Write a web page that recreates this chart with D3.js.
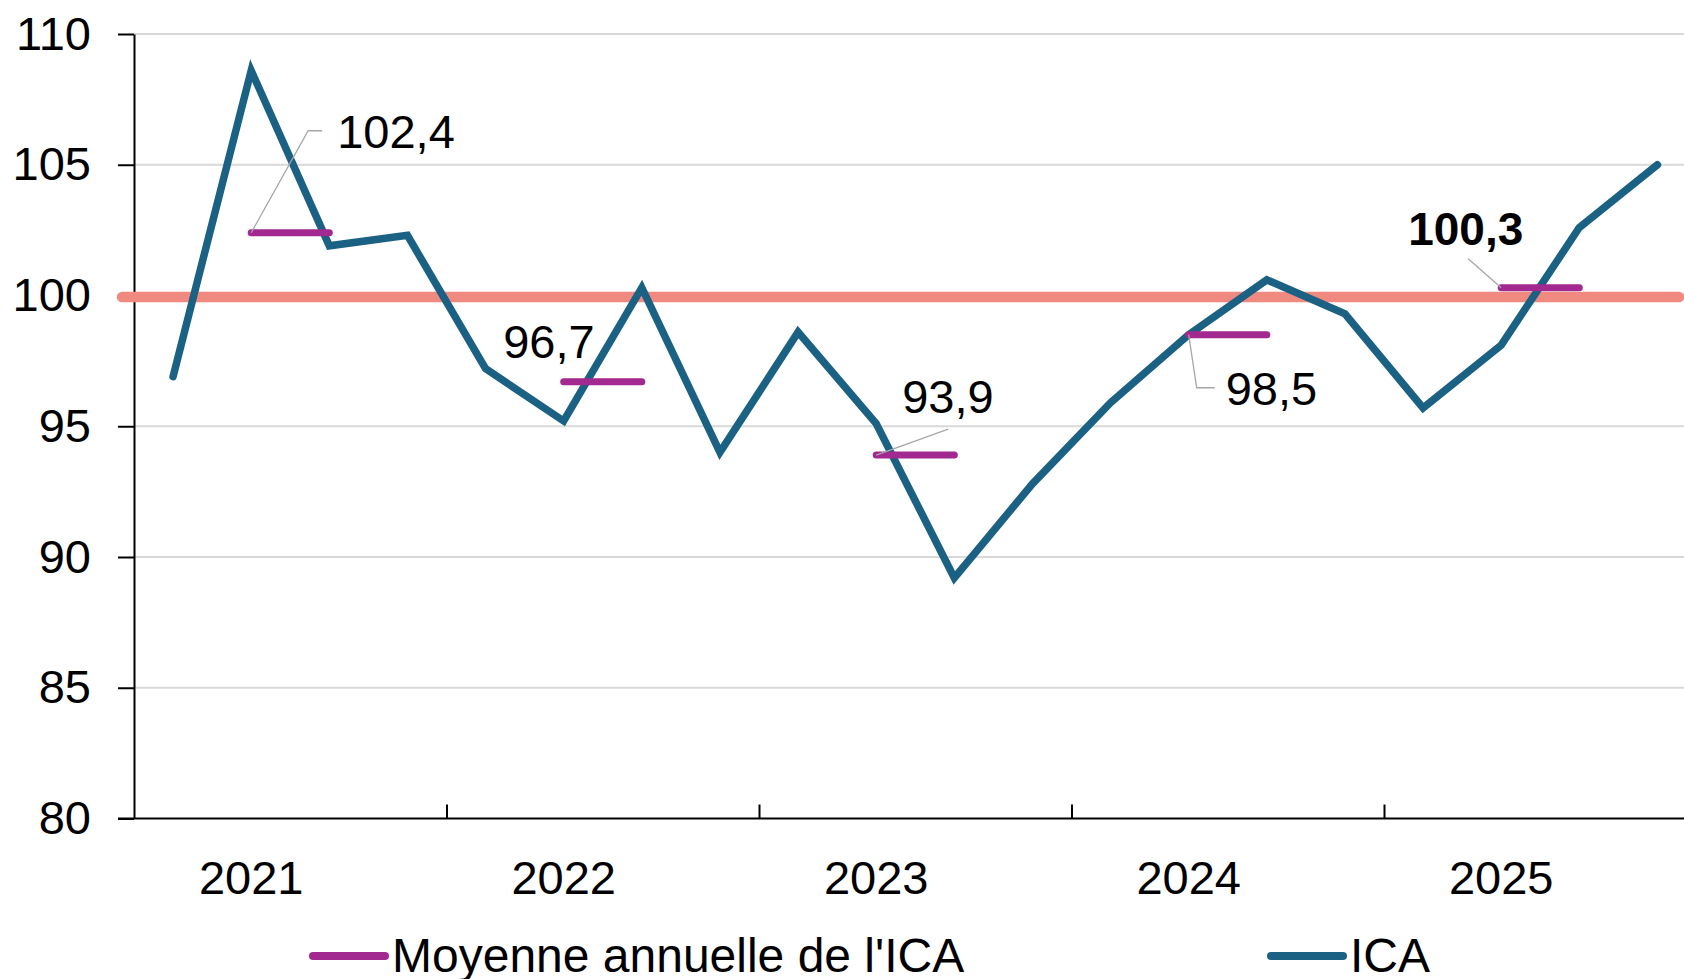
<!DOCTYPE html>
<html>
  <head>
    <meta charset="UTF-8">
    <title>ICA et moyenne annuelle</title>
    <style>
      body { margin: 0; background: #fff; }
      svg { display: block; font-family: "Liberation Sans", Arial, sans-serif; }
    </style>
  </head>
  <body>
    <svg></svg>

    <script src="https://d3js.org/d3.v7.min.js"></script>
    <script>

/* DATA */

// one point per quarter, 2021 T1 -> 2025 T4
var quarters = ["2021T1","2021T2","2021T3","2021T4",
                "2022T1","2022T2","2022T3","2022T4",
                "2023T1","2023T2","2023T3","2023T4",
                "2024T1","2024T2","2024T3","2024T4",
                "2025T1","2025T2","2025T3","2025T4"];
var ica = [96.9, 108.6, 101.9, 102.3,
           97.2, 95.2, 100.3, 94.0,
           98.6, 95.1, 89.2, 92.8,
           95.9, 98.5, 100.6, 99.3,
           95.7, 98.1, 102.6, 105.0];

var years = ["2021", "2022", "2023", "2024", "2025"];
var yearMeans = [102.4, 96.7, 93.9, 98.5, 100.3];
var meanLabels = ["102,4", "96,7", "93,9", "98,5", "100,3"];

var yTicks = [80, 85, 90, 95, 100, 105, 110];
var reference = 100;

var config = {
  "width": 1684,
  "height": 979,
  "left": 134,
  "quarterWidth": 78.125,
  "top": 34,
  "bottom": 818.5,
  "fontSize": 47,
  "legendFontSize": 48,
  "colors": {
    "ica": "#1a6184",
    "mean": "#a2298f",
    "ref": "#f08a80",
    "grid": "#d9d9d9",
    "leader": "#a6a6a6"
  }
};

// label placement relative to the start of each yearly mean segment
var labelSpots = [
  {dx: 86, dy: -85, anchor: "start", bold: false, leader: [[0, 0], [57, -102], [71, -102]]},
  {dx: 31, dy: -24, anchor: "end", bold: false, leader: []},
  {dx: 26, dy: -42, anchor: "start", bold: false, leader: [[0, 0], [72, -26]]},
  {dx: 37, dy: 70, anchor: "start", bold: false, leader: [[0, 0], [8, 53], [26, 53]]},
  {dx: -93, dy: -43, anchor: "start", bold: true, leader: [[0, 0], [-33, -29]]}
];

/* BUILD */

var svg = d3.select("svg")
  .attr("width", config.width)
  .attr("height", config.height);

svg.append("rect")
  .attr("width", config.width)
  .attr("height", config.height)
  .attr("fill", "#fff");

var x = d3.scaleLinear()
  .domain([0, quarters.length])
  .range([config.left, config.left + quarters.length * config.quarterWidth]);

var y = d3.scaleLinear()
  .domain([80, 110])
  .range([config.bottom, config.top]);

// gridlines
svg.append("g")
  .selectAll("line")
  .data(yTicks.filter(function(d){ return d > 80; }))
  .enter().append("line")
    .attr("x1", x(0))
    .attr("x2", config.width)
    .attr("y1", function(d){ return y(d); })
    .attr("y2", function(d){ return y(d); })
    .attr("stroke", config.colors.grid)
    .attr("stroke-width", 2);

// y axis
var yAxis = svg.append("g")
  .attr("transform", `translate(${x(0)},0)`)
  .call(d3.axisLeft(y)
    .tickValues(yTicks)
    .tickSizeInner(16)
    .tickSizeOuter(0)
    .tickPadding(27)
    .tickFormat(d3.format("d")));

yAxis.selectAll("path, line").attr("stroke", "#000").attr("stroke-width", 2);
yAxis.selectAll("text")
  .attr("font-size", config.fontSize)
  .attr("font-family", "Liberation Sans, Arial, sans-serif")
  .attr("fill", "#000");

// x axis with year separators pointing up
var xAxis = svg.append("g")
  .attr("transform", `translate(0,${y(80)})`)
  .call(d3.axisBottom(x)
    .tickValues([4, 8, 12, 16])
    .tickSizeInner(-14)
    .tickSizeOuter(0)
    .tickFormat(""));

xAxis.select(".domain").attr("d", `M${x(0) - 16},0H${config.width}`);
xAxis.selectAll("path, line").attr("stroke", "#000").attr("stroke-width", 2);

// year labels, placed under the 2nd quarter of each year
svg.append("g")
  .selectAll("text")
  .data(years)
  .enter().append("text")
    .attr("x", function(d, i){ return x(i * 4 + 1.5); })
    .attr("y", y(80) + 75)
    .attr("text-anchor", "middle")
    .attr("font-size", config.fontSize)
    .attr("fill", "#000")
    .text(function(d){ return d; });

// reference line at 100
svg.append("line")
  .attr("x1", x(0) - 12)
  .attr("x2", config.width - 5)
  .attr("y1", y(reference) + 1.5)
  .attr("y2", y(reference) + 1.5)
  .attr("stroke", config.colors.ref)
  .attr("stroke-width", 10.5)
  .attr("stroke-linecap", "round");

// ICA line
var line = d3.line()
  .x(function(d, i){ return x(i + 0.5); })
  .y(function(d){ return y(d); });

svg.append("path")
  .datum(ica)
  .attr("d", line)
  .attr("fill", "none")
  .attr("stroke", config.colors.ica)
  .attr("stroke-width", 7.5)
  .attr("stroke-linejoin", "miter")
  .attr("stroke-linecap", "round");

// yearly mean segments (from Q2 to Q3 of each year)
svg.append("g")
  .selectAll("line")
  .data(yearMeans)
  .enter().append("line")
    .attr("x1", function(d, i){ return x(i * 4 + 1.5); })
    .attr("x2", function(d, i){ return x(i * 4 + 2.5); })
    .attr("y1", function(d){ return y(d); })
    .attr("y2", function(d){ return y(d); })
    .attr("stroke", config.colors.mean)
    .attr("stroke-width", 7)
    .attr("stroke-linecap", "round");

// data labels + leader lines
yearMeans.forEach(function(v, i){
  var sx = x(i * 4 + 1.5),
    sy = y(v),
    spot = labelSpots[i];

  if (spot.leader.length) {
    svg.append("path")
      .attr("d", d3.line()(spot.leader.map(function(p){ return [sx + p[0], sy + p[1]]; })))
      .attr("fill", "none")
      .attr("stroke", config.colors.leader)
      .attr("stroke-width", 1.3);
  }

  svg.append("text")
    .attr("x", sx + spot.dx)
    .attr("y", sy + spot.dy)
    .attr("text-anchor", spot.anchor)
    .attr("font-size", spot.bold ? 46 : config.fontSize)
    .attr("font-weight", spot.bold ? "bold" : "normal")
    .attr("fill", "#000")
    .text(meanLabels[i]);
});

// legend
var legend = [
  {name: "Moyenne annuelle de l'ICA", color: config.colors.mean, x: 313},
  {name: "ICA", color: config.colors.ica, x: 1271}
];

var lg = svg.append("g")
  .selectAll("g")
  .data(legend)
  .enter().append("g")
    .attr("transform", function(d){ return `translate(${d.x},956)`; });

lg.append("line")
  .attr("x1", 0)
  .attr("x2", 72)
  .attr("stroke", function(d){ return d.color; })
  .attr("stroke-width", 8)
  .attr("stroke-linecap", "round");

lg.append("text")
  .attr("x", 79)
  .attr("y", 16)
  .attr("font-size", config.legendFontSize)
  .attr("fill", "#000")
  .text(function(d){ return d.name; });

    </script>
  </body>
</html>
